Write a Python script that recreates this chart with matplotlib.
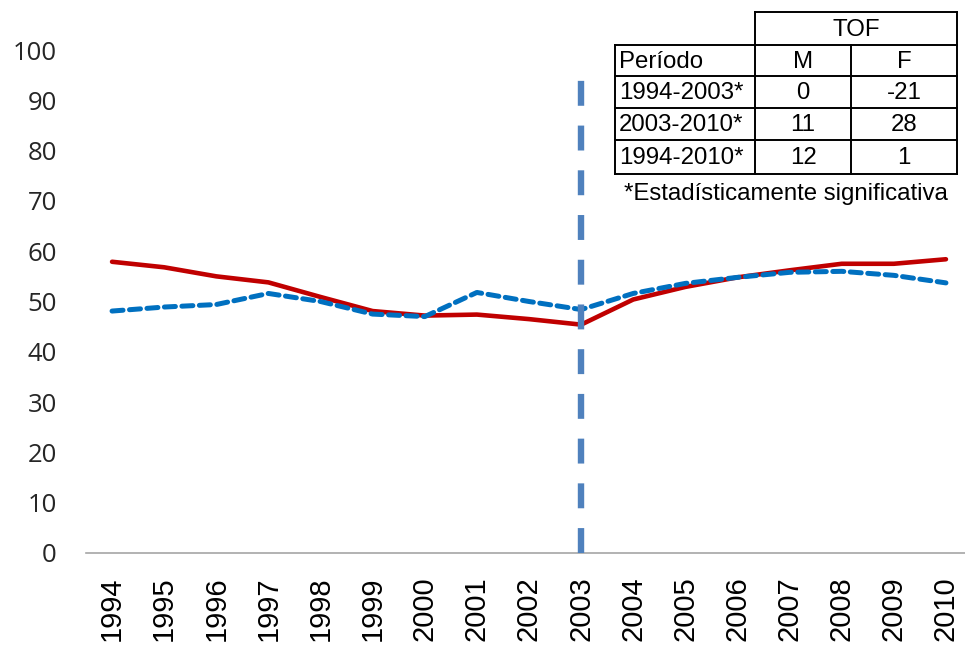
import matplotlib.pyplot as plt
from matplotlib.lines import Line2D

years = list(range(1994, 2011))
tof_f = [57.9, 56.8, 55.0, 53.8, 50.9, 48.1, 47.2, 47.4, 46.5, 45.4,
         50.4, 52.9, 54.8, 56.2, 57.5, 57.5, 58.4]
tof_m = [48.1, 48.9, 49.4, 51.6, 50.0, 47.5, 47.0, 51.8, 50.0, 48.4,
         51.6, 53.6, 54.8, 55.8, 56.0, 55.2, 53.7]
corte = 2003
corte_alto = 96.6

periodos = ["1994-2003*", "2003-2010*", "1994-2010*"]
cambio_m = [0, 11, 12]
cambio_f = [-21, 28, 1]

fig = plt.figure(figsize=(9.65, 6.5), dpi=100)
ax = fig.add_axes([86 / 965, 97 / 650, 886 / 965, 503 / 650])

x = list(range(len(years)))
ax.plot(x, tof_f, color="#C00000", lw=3.3, solid_capstyle="round", zorder=3)
ax.plot(x, tof_m, color="#0070C0", lw=3.6, dashes=(2.2, 1.3),
        dash_capstyle="round", zorder=4)
ix = years.index(corte)
ax.plot([ix, ix], [0, corte_alto], color="#4F81BD", lw=4.6,
        dashes=(3.9, 3.1), zorder=5)

ax.set_xlim(-0.5, len(years) - 0.5)
ax.set_ylim(0, 100)
ax.set_yticks(range(0, 101, 10))
ax.set_xticks(x)
ax.set_xticklabels([str(a) for a in years], rotation=90,
                   fontfamily="Liberation Sans", fontsize=21)
for t in ax.get_yticklabels():
    t.set_fontfamily("Open Sans")
    t.set_fontsize(18.5)
    t.set_color("#262626")
ax.tick_params(length=0)
ax.tick_params(axis="x", pad=17)
ax.tick_params(axis="y", pad=21)
for s in ["top", "right", "left"]:
    ax.spines[s].set_visible(False)
ax.spines["bottom"].set_color("#A6A6A6")
ax.spines["bottom"].set_linewidth(1.2)
ax.spines["bottom"].set_zorder(2)

# tabla de cambios
W, H = 965, 650
cx = [615, 755, 851, 957]
ry = [12, 45, 76, 108, 140, 174]

def linea(x0, y0, x1, y1):
    fig.add_artist(Line2D([x0 / W, x1 / W], [1 - y0 / H, 1 - y1 / H],
                          color="black", lw=1.4))

linea(cx[1], ry[0], cx[3], ry[0])
for yy in ry[1:]:
    linea(cx[0], yy, cx[3], yy)
linea(cx[0], ry[1], cx[0], ry[5])
linea(cx[1], ry[0], cx[1], ry[5])
linea(cx[2], ry[1], cx[2], ry[5])
linea(cx[3], ry[0], cx[3], ry[5])

def texto(x0, y0, s, ha="center"):
    fig.text(x0 / W, 1 - y0 / H, s, ha=ha, va="center",
             fontfamily="Liberation Sans", fontsize=17.3)

texto((cx[1] + cx[3]) / 2, (ry[0] + ry[1]) / 2 + 1, "TOF")
texto(cx[0] + 4, (ry[1] + ry[2]) / 2 + 1, "Período", ha="left")
texto((cx[1] + cx[2]) / 2, (ry[1] + ry[2]) / 2 + 1, "M")
texto((cx[2] + cx[3]) / 2, (ry[1] + ry[2]) / 2 + 1, "F")
for i, p in enumerate(periodos):
    yc = (ry[i + 2] + ry[i + 3]) / 2 + 1
    texto(cx[0] + 4, yc, p, ha="left")
    texto((cx[1] + cx[2]) / 2, yc, str(cambio_m[i]))
    texto((cx[2] + cx[3]) / 2, yc, str(cambio_f[i]))
texto(624, 194, "*Estadísticamente significativa", ha="left")

fig.savefig("out.png", dpi=100)
